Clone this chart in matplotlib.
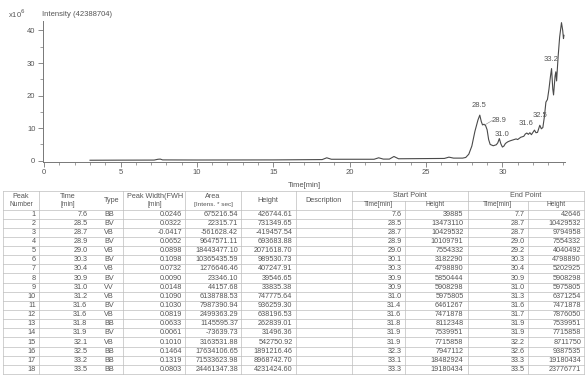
import matplotlib
matplotlib.use("Agg")
import matplotlib.pyplot as plt
from matplotlib.ticker import MultipleLocator

plt.rcParams['font.family'] = ['Liberation Sans', 'DejaVu Sans']

# ---- chromatogram trace (time in min, intensity in 1e6 counts) ----
trace_time = [3.0, 5.0, 7.2, 7.45, 7.6, 7.75, 10.0, 15.0, 18.2, 18.5, 18.8,
              21.6, 21.9, 22.2, 22.6, 22.9, 23.2, 26.2, 26.5, 26.8, 27.4,
              27.6, 27.8, 28.0, 28.2, 28.4, 28.52, 28.62, 28.7, 28.8, 28.9,
              29.0, 29.1, 29.2, 29.4, 29.6, 29.7, 29.8, 29.9, 30.0, 30.1,
              30.2, 30.35, 30.5, 30.7, 30.9, 31.0, 31.2, 31.4, 31.5, 31.6,
              31.7, 31.8, 31.9, 32.0, 32.1, 32.2, 32.3, 32.45, 32.55, 32.65,
              32.75, 32.85, 32.95, 33.05, 33.15, 33.22, 33.3, 33.35, 33.45,
              33.5, 33.55, 33.65, 33.75, 33.87, 33.95, 34.0, 34.03]
trace_int = [0.15, 0.18, 0.2, 0.45, 0.5, 0.25, 0.22, 0.25, 0.35, 0.9, 0.45,
             0.45, 0.9, 0.5, 0.5, 1.3, 0.6, 0.7, 1.1, 0.8, 0.8,
             1.0, 2.0, 4.5, 9.0, 12.5, 14.0, 12.0, 11.0, 11.2, 10.8,
             9.5, 6.5, 5.0, 4.6, 4.9, 5.5, 6.8, 5.2, 4.2, 4.5,
             5.3, 5.8, 6.1, 6.4, 6.7, 6.5, 7.2, 7.5, 8.2, 8.5,
             8.1, 8.6, 8.0, 8.7, 9.4, 8.6, 8.7, 10.9, 9.8, 10.2,
             13.5, 18.0, 18.8, 22.0, 26.0, 28.3, 22.0, 20.2, 26.0,
             27.3, 24.5, 32.0, 38.0, 42.4, 40.0, 37.5, 38.5]

peak_labels = ["28.5", "28.9", "31.0", "31.6", "32.5", "33.2"]
label_time = [28.5, 29.8, 30.0, 31.55, 32.5, 33.2]
label_int = [17.1, 12.5, 7.9, 11.5, 14.0, 31.1]

x_ticks = [0, 5, 10, 15, 20, 25, 30]
y_ticks = [0, 10, 20, 30, 40]

# ---- peak table ----
peak_number = list(range(1, 19))
peak_time = [7.6, 28.5, 28.7, 28.9, 29.0, 30.3, 30.4, 30.9, 31.0, 31.2, 31.6,
             31.6, 31.8, 31.9, 32.1, 32.5, 33.2, 33.5]
peak_type = ["BB", "BV", "VB", "BV", "VB", "BV", "VB", "BV", "VV", "VB", "BV",
             "VB", "BB", "BV", "VB", "BB", "BB", "BB"]
peak_width = ["0.0246", "0.0322", "-0.0417", "0.0652", "0.0898", "0.1098",
              "0.0732", "0.0090", "0.0148", "0.1090", "0.1030", "0.0819",
              "0.0633", "0.0061", "0.1010", "0.1464", "0.1319", "0.0803"]
peak_area = ["675216.54", "22315.71", "-561628.42", "9647571.11",
             "18443477.10", "10365435.59", "1276646.46", "23346.10",
             "44157.68", "6138788.53", "7987390.94", "2499363.29",
             "1145595.37", "-73639.73", "3163531.88", "17634106.65",
             "71533623.98", "24461347.38"]
peak_height = ["426744.61", "731349.65", "-419457.54", "693683.88",
               "2071618.70", "989530.73", "407247.91", "39546.65", "33835.38",
               "747775.64", "936259.30", "638196.53", "262839.01", "31496.36",
               "542750.92", "1891216.46", "8968742.70", "4231424.60"]
start_time = [7.6, 28.5, 28.7, 28.9, 29.0, 30.1, 30.3, 30.9, 30.9, 31.0, 31.4,
              31.6, 31.8, 31.9, 31.9, 32.3, 33.1, 33.3]
start_height = [39885, 13473110, 10429532, 10109791, 7554332, 3182290,
                4798890, 5850444, 5908298, 5975805, 6461267, 7471878, 8112348,
                7539951, 7715858, 7947112, 18482924, 19180434]
end_time = [7.7, 28.7, 28.7, 29.0, 29.2, 30.3, 30.4, 30.9, 31.0, 31.3, 31.6,
            31.7, 31.9, 31.9, 32.2, 32.6, 33.3, 33.5]
end_height = [42646, 10429532, 9794958, 7554332, 4040492, 4798890, 5202925,
              5908298, 5975805, 6371254, 7471878, 7876050, 7539951, 7715858,
              8711750, 9387535, 19180434, 23776771]

W, H = 585, 376
TXT = "#555555"
LINE = "#bdbdbd"

fig = plt.figure(figsize=(W / 100, H / 100), dpi=100)
fig.patch.set_facecolor("white")

# ---------------- chart ----------------
ax = fig.add_axes([43 / W, 1 - 161.7 / H, (565 - 43) / W, (161.7 - 20.7) / H])
ax.plot(trace_time, trace_int, color="#4a4a4a", lw=0.8)
ax.set_xlim(-0.08, 34.1)
ax.set_ylim(-0.3, 43.0)
for s in ["top", "right"]:
    ax.spines[s].set_visible(False)
for s in ["left", "bottom"]:
    ax.spines[s].set_color("#777777")
    ax.spines[s].set_linewidth(0.7)
ax.set_xticks(x_ticks)
ax.set_yticks(y_ticks)
ax.xaxis.set_minor_locator(MultipleLocator(1))
ax.yaxis.set_minor_locator(MultipleLocator(5))
ax.tick_params(axis="both", which="major", length=3.5, width=0.6,
               color="#777777", labelsize=5.5, labelcolor=TXT, pad=2)
ax.tick_params(axis="both", which="minor", length=2, width=0.5,
               color="#777777")
ax.set_xlabel("Time[min]", fontsize=5.5, color=TXT, labelpad=4)

for lab, t, v in zip(peak_labels, label_time, label_int):
    ax.text(t, v, lab, fontsize=5.5, color=TXT, ha="center", va="center")
# leader line for 28.9 label
ax.plot([28.85, 29.35], [11.0, 12.4], color="#888888", lw=0.4)

fig.text(8 / W, 1 - 14 / H, r"x10$^{6}$", fontsize=5.5, color=TXT,
         va="center", ha="left")
fig.text(42 / W, 1 - 14 / H, "Intensity (42388704)", fontsize=5.5,
         color=TXT, va="center", ha="left")

# ---------------- table ----------------
tax = fig.add_axes([0, 0, 1, 1])
tax.set_xlim(0, W)
tax.set_ylim(H, 0)
tax.axis("off")

top, mid, hb = 191.0, 200.5, 209.5
rh = 9.14
n = len(peak_number)
bottom = hb + n * rh
x0, x1 = 3, 584

for k in range(n + 1):
    y = hb + k * rh
    tax.plot([x0, x1], [y, y], color=LINE, lw=0.5)
tax.plot([x0, x1], [top, top], color=LINE, lw=0.5)
tax.plot([352, x1], [mid, mid], color=LINE, lw=0.5)
for xv in [3, 39, 123, 185, 241, 296, 352, 468, 584]:
    tax.plot([xv, xv], [top, bottom], color=LINE, lw=0.5)
for xv in [405, 528]:
    tax.plot([xv, xv], [mid, bottom], color=LINE, lw=0.5)

FS = 5.2
hl1, hl2 = 197.0, 204.5
def htxt(x, y, s, fs=FS):
    tax.text(x, y, s, fontsize=fs, color=TXT, ha="center", va="center")

htxt(21, hl1, "Peak"); htxt(21, hl2, "Number", 4.8)
htxt(68, hl1, "Time"); htxt(68, hl2, "[min]", 4.8)
htxt(112, 200.3, "Type")
htxt(155, hl1, "Peak Width(FWH"); htxt(155, hl2, "[min]", 4.8)
htxt(213, hl1, "Area"); htxt(213, hl2, "[Intens. * sec]", 4.6)
htxt(268, 200.3, "Height")
htxt(323, 200.3, "Description")
htxt(410, 195.7, "Start Point")
htxt(526, 195.7, "End Point")
htxt(378, 205.0, "Time[min]", 4.8)
htxt(435, 205.0, "Height", 4.8)
htxt(497, 205.0, "Time[min]", 4.8)
htxt(556, 205.0, "Height", 4.8)

for i in range(n):
    y = hb + (i + 0.5) * rh
    def r(x, s):
        tax.text(x, y, s, fontsize=FS, color=TXT, ha="right", va="center")
    r(36, str(peak_number[i]))
    r(87.5, f"{peak_time[i]:.1f}")
    tax.text(104, y, peak_type[i], fontsize=FS, color=TXT, ha="left",
             va="center")
    r(182, peak_width[i])
    r(238, peak_area[i])
    r(292.5, peak_height[i])
    r(401.5, f"{start_time[i]:.1f}")
    r(463.5, str(start_height[i]))
    r(525, f"{end_time[i]:.1f}")
    r(581, str(end_height[i]))

fig.savefig("out.png", dpi=100, facecolor="white")
